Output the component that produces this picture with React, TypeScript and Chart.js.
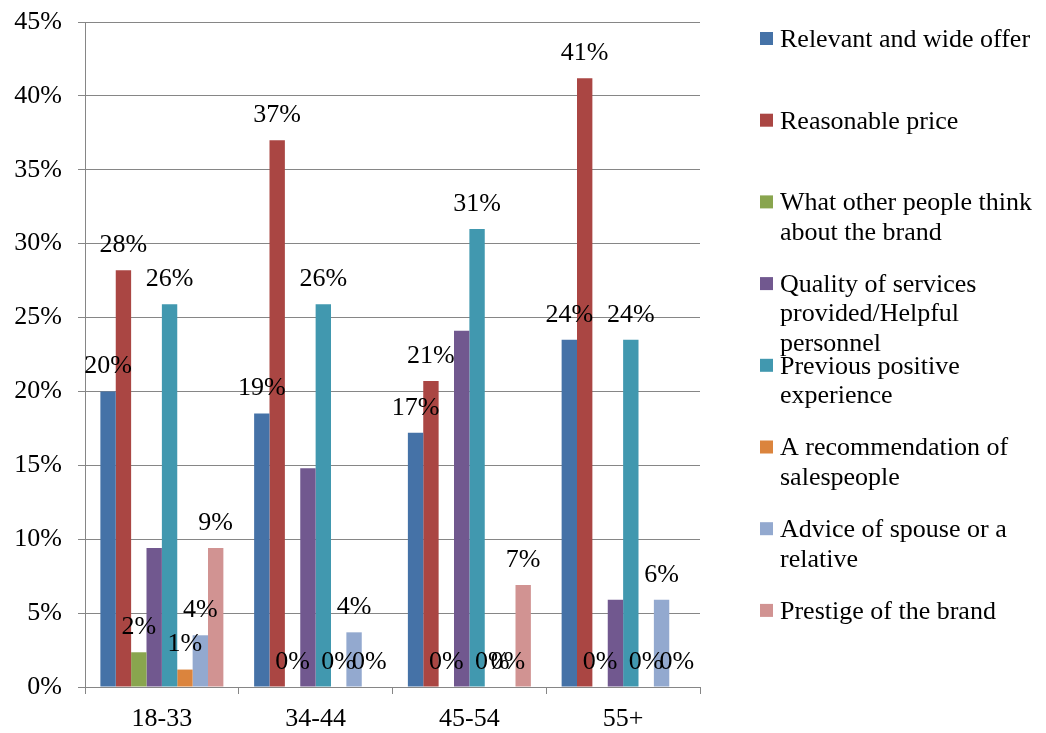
import React, { useEffect, useRef } from "react";
import { Chart, registerables } from "chart.js";

Chart.register(...registerables);

const categories = ["18-33", "34-44", "45-54", "55+"];

const seriesNames = [
  ["Relevant and wide offer"],
  ["Reasonable price"],
  ["What other people think", "about the brand"],
  ["Quality of services", "provided/Helpful", "personnel"],
  ["Previous positive", "experience"],
  ["A recommendation of", "salespeople"],
  ["Advice of spouse or a", "relative"],
  ["Prestige of the brand"],
];

const relevantOffer = [20.0, 18.5, 17.2, 23.5];
const reasonablePrice = [28.2, 37.0, 20.7, 41.2];
const otherPeople = [2.35, 0, 0, 0];
const qualityServices = [9.4, 14.8, 24.1, 5.9];
const previousExperience = [25.9, 25.9, 31.0, 23.5];
const salesRecommendation = [1.18, 0, 0, 0];
const spouseAdvice = [3.5, 3.7, 0, 5.9];
const brandPrestige = [9.4, 0, 6.9, 0];

const seriesValues = [
  relevantOffer,
  reasonablePrice,
  otherPeople,
  qualityServices,
  previousExperience,
  salesRecommendation,
  spouseAdvice,
  brandPrestige,
];

const seriesShowLabels = [true, true, true, false, true, true, true, true];

const seriesColors = [
  "#4572A7",
  "#AA4643",
  "#89A54E",
  "#71588F",
  "#4198AF",
  "#DB843D",
  "#93A9CF",
  "#D19392",
];

const yTicks = [0, 5, 10, 15, 20, 25, 30, 35, 40, 45];

const FONT = "'Liberation Serif', 'Times New Roman', serif";
const FONT_SIZE = 26;
const GRID = "#868686";

const dataLabelPlugin = {
  id: "dataLabels",
  afterDatasetsDraw(chart: any) {
    const ctx = chart.ctx;
    ctx.save();
    ctx.font = `${FONT_SIZE}px ${FONT}`;
    ctx.fillStyle = "#000";
    ctx.textAlign = "center";
    ctx.textBaseline = "middle";
    chart.data.datasets.forEach((ds: any, di: number) => {
      if (!seriesShowLabels[di]) return;
      const meta = chart.getDatasetMeta(di);
      meta.data.forEach((el: any, i: number) => {
        const v = ds.data[i];
        ctx.fillText(Math.round(v) + "%", el.x, el.y - 25);
      });
    });
    ctx.restore();
  },
};

const legendPlugin = {
  id: "customLegend",
  afterDraw(chart: any) {
    const ctx = chart.ctx;
    ctx.save();
    ctx.font = `${FONT_SIZE}px ${FONT}`;
    ctx.textAlign = "left";
    ctx.textBaseline = "middle";
    const x0 = chart.chartArea.right + 60;
    const itemStep = 81.7;
    const lineH = 29.5;
    const top = 40;
    seriesNames.forEach((lines, i) => {
      const y = top + i * itemStep;
      ctx.fillStyle = seriesColors[i];
      ctx.fillRect(x0, y - 8, 13, 13);
      ctx.fillStyle = "#000";
      lines.forEach((t, j) => {
        ctx.fillText(t, x0 + 20, y + j * lineH);
      });
    });
    ctx.restore();
  },
};

export default function App() {
  const ref = useRef<HTMLCanvasElement | null>(null);

  useEffect(() => {
    if (!ref.current) return;
    const chart = new Chart(ref.current, {
      type: "bar",
      data: {
        labels: categories,
        datasets: seriesValues.map((vals, i) => ({
          label: seriesNames[i].join(" "),
          data: vals,
          backgroundColor: seriesColors[i],
          borderWidth: 0,
          categoryPercentage: 0.8,
          barPercentage: 1.0,
        })),
      },
      options: {
        responsive: false,
        animation: false,
        layout: { padding: { top: 22, right: 346, left: 0, bottom: 0 } },
        plugins: {
          legend: { display: false },
          tooltip: { enabled: false },
        },
        scales: {
          x: {
            grid: {
              offset: true,
              drawOnChartArea: false,
              drawTicks: true,
              tickLength: 7,
              color: GRID,
            },
            border: { color: GRID, width: 1 },
            ticks: {
              color: "#000",
              font: { family: FONT, size: FONT_SIZE },
              padding: 10,
            },
            afterFit(scale: any) {
              scale.height = 46;
              scale.paddingLeft = 0;
              scale.paddingRight = 0;
            },
          },
          y: {
            min: 0,
            max: 45,
            afterBuildTicks(scale: any) {
              scale.ticks = yTicks.map((v) => ({ value: v }));
            },
            grid: {
              color: GRID,
              tickLength: 7,
              drawTicks: true,
            },
            border: { color: GRID, width: 1 },
            ticks: {
              color: "#000",
              font: { family: FONT, size: FONT_SIZE },
              padding: 16,
              callback: (v: any) => v + "%",
            },
            afterFit(scale: any) {
              scale.width = 85;
              scale.paddingTop = 0;
              scale.paddingBottom = 0;
            },
          },
        },
      },
      plugins: [dataLabelPlugin, legendPlugin],
    });
    return () => chart.destroy();
  }, []);

  return (
    <div
      style={{
        position: "absolute",
        left: 0,
        top: 0,
        width: 1046,
        height: 733,
        background: "#fff",
      }}
    >
      <canvas ref={ref} width={1046} height={733} />
    </div>
  );
}
